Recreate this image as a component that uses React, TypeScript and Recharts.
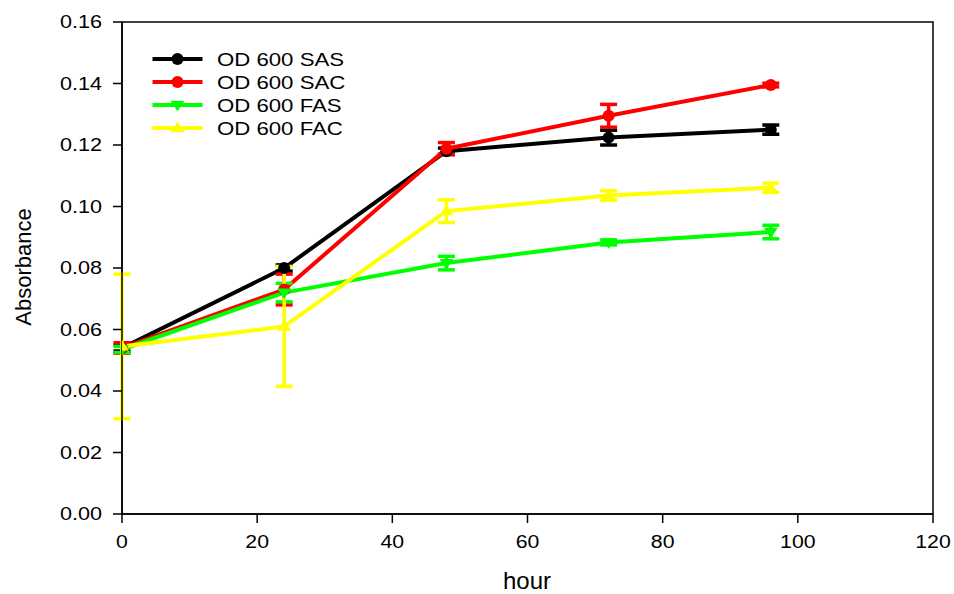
import React from 'react';
import {
  LineChart, Line, XAxis, YAxis, ErrorBar, ReferenceArea, Legend,
} from 'recharts';

const HOURS = [0, 24, 48, 72, 96];
const SAS = [0.054, 0.080, 0.118, 0.1224, 0.125];
const SAS_ERR = [0.001, 0.001, 0.001, 0.0024, 0.0015];
const SAC = [0.054, 0.073, 0.1188, 0.1295, 0.1395];
const SAC_ERR = [0.0017, 0.005, 0.002, 0.0037, 0.0006];
const FAS = [0.0535, 0.072, 0.0816, 0.0883, 0.0917];
const FAS_ERR = [0.001, 0.003, 0.0022, 0.0008, 0.0022];
const FAC = [0.0545, 0.061, 0.0985, 0.1036, 0.1061];
const FAC_ERR = [0.0235, 0.0195, 0.0037, 0.0015, 0.0015];

const X_TICKS = [0, 20, 40, 60, 80, 100, 120];
const Y_TICKS = [0, 0.02, 0.04, 0.06, 0.08, 0.1, 0.12, 0.14, 0.16];

const SERIES = [
  { key: 'sas', name: 'OD 600 SAS', color: '#000000', shape: 'circle', values: SAS, errs: SAS_ERR },
  { key: 'sac', name: 'OD 600 SAC', color: '#ff0000', shape: 'circle', values: SAC, errs: SAC_ERR },
  { key: 'fas', name: 'OD 600 FAS', color: '#00ff00', shape: 'down', values: FAS, errs: FAS_ERR },
  { key: 'fac', name: 'OD 600 FAC', color: '#ffff00', shape: 'up', values: FAC, errs: FAC_ERR },
];

const data = HOURS.map((h, i) => {
  const row: any = { hour: h };
  SERIES.forEach((s) => {
    row[s.key] = s.values[i];
    row[s.key + 'Err'] = s.errs[i];
  });
  return row;
});

const FONT = '"Liberation Sans", Arial, sans-serif';

function Marker({ cx, cy, shape, color }: any) {
  if (cx == null || cy == null) return null;
  if (shape === 'circle') return <circle cx={cx} cy={cy} r={6} fill={color} stroke="none" />;
  const s = 7;
  if (shape === 'down') {
    return <path d={`M${cx - s},${cy - s * 0.6} L${cx + s},${cy - s * 0.6} L${cx},${cy + s * 0.9} Z`} fill={color} />;
  }
  return <path d={`M${cx - s},${cy + s * 0.6} L${cx + s},${cy + s * 0.6} L${cx},${cy - s * 0.9} Z`} fill={color} />;
}

const makeDot = (shape: string, color: string) => (props: any) => (
  <Marker key={`${shape}-${color}-${props.index}`} cx={props.cx} cy={props.cy} shape={shape} color={color} />
);

const YTick = ({ x, y, payload }: any) => (
  <g transform={`translate(${x},${y})`}>
    <text transform="scale(1.2,1)" textAnchor="end" dy="0.355em" fontSize={18} fontFamily={FONT} fill="#000">
      {Number(payload.value).toFixed(2)}
    </text>
  </g>
);

const XTick = ({ x, y, payload }: any) => (
  <g transform={`translate(${x},${y})`}>
    <text transform="scale(1.12,1)" textAnchor="middle" y={23} fontSize={19} fontFamily={FONT} fill="#000">
      {payload.value}
    </text>
  </g>
);

const LegendContent = () => (
  <svg width={220} height={100} style={{ display: 'block' }}>
    {SERIES.map((s, i) => {
      const y = 12 + i * 23;
      return (
        <g key={s.key}>
          <line x1={2.5} x2={52.5} y1={y} y2={y} stroke={s.color} strokeWidth={4} />
          <Marker cx={27.5} cy={y} shape={s.shape} color={s.color} />
          <g transform={`translate(67,${y})`}>
            <text transform="scale(1.2,1)" dy="0.36em" fontSize={18.5} fontFamily={FONT} fill="#000">
              {s.name}
            </text>
          </g>
        </g>
      );
    })}
  </svg>
);

const XLabel = () => (
  <text x={527} y={589} textAnchor="middle" fontSize={24} fontFamily={FONT} fill="#000">hour</text>
);

const YLabel = () => (
  <text x={23} y={267} transform="rotate(-90, 23, 267)" textAnchor="middle" dominantBaseline="central"
    fontSize={22} fontFamily={FONT} fill="#000">Absorbance</text>
);

export default function App() {
  return (
    <div style={{ position: 'absolute', left: 0, top: 0, width: 954, height: 594, background: '#fff' }}>
      <LineChart width={954} height={594} data={data} margin={{ top: 22, right: 21, left: 0, bottom: 0 }}>
        <XAxis
          type="number"
          dataKey="hour"
          domain={[0, 120]}
          ticks={X_TICKS}
          allowDataOverflow
          height={80}
          tickSize={9}
          tickMargin={2}
          tick={<XTick />}
          axisLine={{ stroke: '#000', strokeWidth: 1.5 }}
          tickLine={{ stroke: '#000', strokeWidth: 1.5 }}
          label={<XLabel />}
        />
        <YAxis
          type="number"
          domain={[0, 0.16]}
          ticks={Y_TICKS}
          allowDataOverflow
          width={122}
          tickSize={9}
          tickMargin={11}
          tick={<YTick />}
          axisLine={{ stroke: '#000', strokeWidth: 1.5 }}
          tickLine={{ stroke: '#000', strokeWidth: 1.5 }}
          label={<YLabel />}
        />
        <ReferenceArea x1={0} x2={120} y1={0} y2={0.16} fill="none" stroke="#000" strokeWidth={1.5} ifOverflow="visible" />
        {SERIES.map((s) => (
          <Line
            key={s.key}
            type="linear"
            dataKey={s.key}
            name={s.name}
            stroke={s.color}
            strokeWidth={4}
            dot={makeDot(s.shape, s.color)}
            activeDot={false}
            isAnimationActive={false}
          >
            <ErrorBar
              dataKey={s.key + 'Err'}
              direction="y"
              width={8.5}
              stroke={s.color}
              strokeWidth={3.5}
              isAnimationActive={false}
            />
          </Line>
        ))}
        <Legend
          layout="vertical"
          align="center"
          verticalAlign="middle"
          content={<LegendContent />}
          wrapperStyle={{ position: 'absolute', left: 150, top: 47, width: 220, height: 100 }}
        />
      </LineChart>
    </div>
  );
}
